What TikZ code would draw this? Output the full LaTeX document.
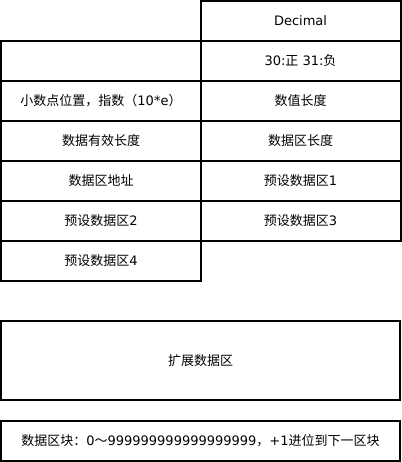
\documentclass[tikz,border=0pt]{standalone}
\usepackage{fontspec}
\setmainfont{DejaVu Sans}
\newfontfamily\cjk{Noto Sans CJK SC}
\usepackage{tikz}

\begin{document}
\begin{tikzpicture}[x=1pt,y=-1pt,
  cell/.style={draw,line width=2pt,minimum width=200pt,minimum height=40pt,
    inner sep=0pt,font=\fontsize{13}{15}\selectfont},
  wide/.style={cell,minimum width=399pt}]
  \useasboundingbox (0,0) rectangle (401,462);
  \node[cell] (dec) at (300.5,21) {Decimal};
  \node[cell] (blank) at (101,61) {};
  \node[cell] (sign) at (300.5,61) {30:{\cjk 正} 31:{\cjk 负}};
  \node[cell] (exp) at (101,101) {{\cjk 小数点位置，指数（}10*e{\cjk ）}};
  \node[cell] (len) at (300.5,101) {\cjk 数值长度};
  \node[cell] (valid) at (101,141) {\cjk 数据有效长度};
  \node[cell] (datalen) at (300.5,141) {\cjk 数据区长度};
  \node[cell] (addr) at (101,181) {\cjk 数据区地址};
  \node[cell] (pre1) at (300.5,181) {{\cjk 预设数据区}1};
  \node[cell] (pre2) at (101,221) {{\cjk 预设数据区}2};
  \node[cell] (pre3) at (300.5,221) {{\cjk 预设数据区}3};
  \node[cell] (pre4) at (101,261) {{\cjk 预设数据区}4};
  \node[wide,minimum height=79pt] (ext) at (200.5,360.5) {\cjk 扩展数据区};
  \node[wide] (block) at (200.5,441)
    {{\cjk 数据区块：}0{\cjk ～}999999999999999999{\cjk ，}+1{\cjk 进位到下一区块}};
\end{tikzpicture}
\end{document}
